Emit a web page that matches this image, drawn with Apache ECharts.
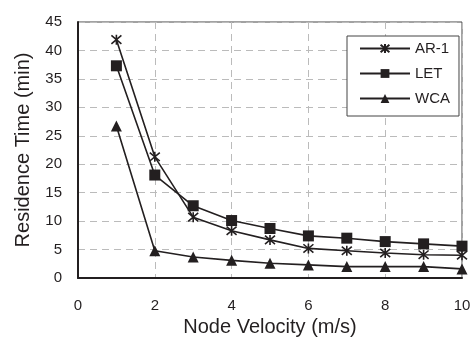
<!DOCTYPE html>
<html lang="en">
<head>
    <meta charset="utf-8">
    <title>Residence Time vs Node Velocity</title>
    <script src="https://cdn.jsdelivr.net/npm/echarts@6/dist/echarts.min.js"></script>
    <style>
        html, body { margin: 0; padding: 0; background: #fff; }
        #chart { width: 471px; height: 337px; }
    </style>
</head>
<body>
    <div id="chart"></div>
    <script>
        // Data
        const velocity = [1, 2, 3, 4, 5, 6, 7, 8, 9, 10];
        const ar1 = [41.9, 21.3, 10.7, 8.3, 6.7, 5.2, 4.8, 4.4, 4.1, 4.0];
        const let_ = [37.3, 18.1, 12.7, 10.1, 8.7, 7.4, 7.0, 6.4, 6.0, 5.6];
        const wca = [26.7, 4.8, 3.7, 3.1, 2.6, 2.3, 2.0, 2.0, 2.0, 1.6];

        const ink = '#231f20';
        const font = 'Liberation Sans, Arial, sans-serif';
        const asterisk = 'path://M0,0L10,10M10,0L0,10M5,-1L5,11M5,5Z';

        const pairs = ys => velocity.map((x, i) => [x, ys[i]]);

        function makeSeries(name, ys, symbol, size) {
            return {
                name: name,
                type: 'line',
                data: pairs(ys),
                symbol: symbol,
                symbolSize: size,
                showAllSymbol: true,
                lineStyle: { color: ink, width: 1.6 },
                itemStyle: { color: ink, borderColor: ink, borderWidth: symbol === asterisk ? 1.6 : 0 },
                emphasis: { disabled: true },
                animation: false
            };
        }

        const chart = echarts.init(document.getElementById('chart'));
        chart.setOption({
            backgroundColor: '#fff',
            animation: false,
            grid: {
                left: 78, right: 9, top: 22, bottom: 59,
                outerBoundsMode: 'none',
                show: true, borderColor: '#444', borderWidth: 1
            },
            legend: {
                orient: 'vertical',
                left: 347, top: 36,
                itemWidth: 50, itemHeight: 11, itemGap: 10,
                padding: [5, 9, 10, 12],
                borderColor: '#444', borderWidth: 1,
                backgroundColor: '#fff',
                textStyle: { fontFamily: font, fontSize: 15, color: ink },
                data: ['AR-1', 'LET', 'WCA']
            },
            xAxis: {
                type: 'value', min: 0, max: 10, interval: 2,
                name: 'Node Velocity (m/s)', nameLocation: 'middle', nameGap: 35,
                nameTextStyle: { fontFamily: font, fontSize: 20, color: ink },
                axisLine: { lineStyle: { color: ink, width: 2 } },
                axisTick: { show: false },
                axisLabel: { fontFamily: font, fontSize: 15, color: ink, margin: 20 },
                splitLine: { lineStyle: { color: '#bbb', type: [7, 5] } }
            },
            yAxis: {
                type: 'value', min: 0, max: 45, interval: 5,
                name: 'Residence Time (min)', nameLocation: 'middle', nameGap: 45,
                nameTextStyle: { fontFamily: font, fontSize: 20, color: ink },
                axisLine: { show: true, lineStyle: { color: ink, width: 2 } },
                axisTick: { show: false },
                axisLabel: { fontFamily: font, fontSize: 15, color: ink, margin: 16 },
                splitLine: { lineStyle: { color: '#bbb', type: [7, 5] } }
            },
            series: [
                makeSeries('AR-1', ar1, asterisk, 10),
                makeSeries('LET', let_, 'rect', 11),
                makeSeries('WCA', wca, 'triangle', 11)
            ]
        });
    </script>
</body>
</html>
